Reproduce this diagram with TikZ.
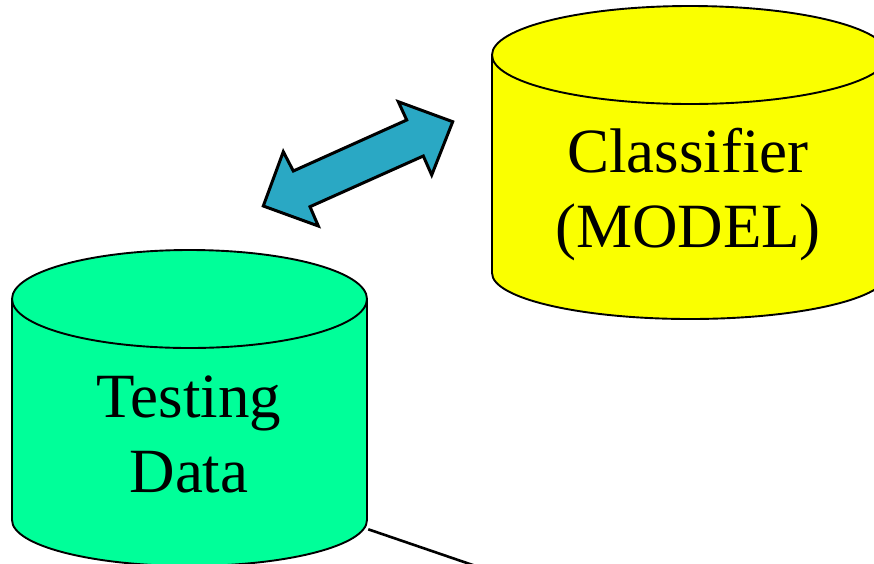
\documentclass[tikz,border=0pt]{standalone}
\usepackage{fontspec}
\setmainfont{Liberation Serif}
\definecolor{dbgreen}{HTML}{00FF99}
\definecolor{dbyellow}{HTML}{FAFF00}
\definecolor{linkteal}{HTML}{2AA8C4}
\tikzset{
  dbbody/.style={draw=black, line width=1.9pt, line join=round},
  dblabel/.style={align=center, inner sep=0pt, font=\fontsize{63}{75}\selectfont},
  bigarrow/.style={draw=black, fill=linkteal, line width=3pt, line join=miter},
  flow/.style={draw=black, line width=2.6pt},
}
% cylinder: #1 centre x, #2 top-ellipse centre y, #3 bottom y of side,
% #4 x radius, #5 top y radius, #6 bottom y radius, #7 fill colour
\newcommand{\dbcylinder}[7]{%
  \path[dbbody, fill=#7] (#1-#4,#2) -- (#1-#4,#3)
    arc[start angle=180, end angle=0, x radius=#4, y radius=#6]
    -- (#1+#4,#2)
    arc[start angle=0, end angle=-180, x radius=#4, y radius=#5] -- cycle;
  \draw[dbbody] (#1-#4,#2)
    arc[start angle=180, end angle=0, x radius=#4, y radius=#5];
}
\begin{document}
\begin{tikzpicture}[x=1pt, y=-1pt]
  \useasboundingbox (0,0) rectangle (874,563);
  \clip (0,0) rectangle (874,563);

  % classifier store, top right
  \dbcylinder{690}{55}{273}{198}{49}{46}{dbyellow}
  \node[dblabel] (model) at (688,195) {Classifier\\(MODEL)};

  % testing data store, bottom left
  \dbcylinder{189.5}{299}{520}{177.5}{49}{46}{dbgreen}
  \node[dblabel] (testing) at (189,434) {Testing\\Data};

  % two-way exchange between the stores
  \path[bigarrow] (263.3,206) -- (283.3,151.7) -- (293.3,171)
    -- (406.7,120) -- (398.3,101.7) -- (452.7,121.7)
    -- (431.7,175) -- (423.3,156) -- (310,206.7)
    -- (318.3,226) -- cycle;

  % outgoing link from the testing data
  \coordinate (testingOut) at (368.3,529.3);
  \coordinate (nextStage) at (562,595.5);
  \draw[flow] (testingOut) -- (nextStage);
\end{tikzpicture}
\end{document}
